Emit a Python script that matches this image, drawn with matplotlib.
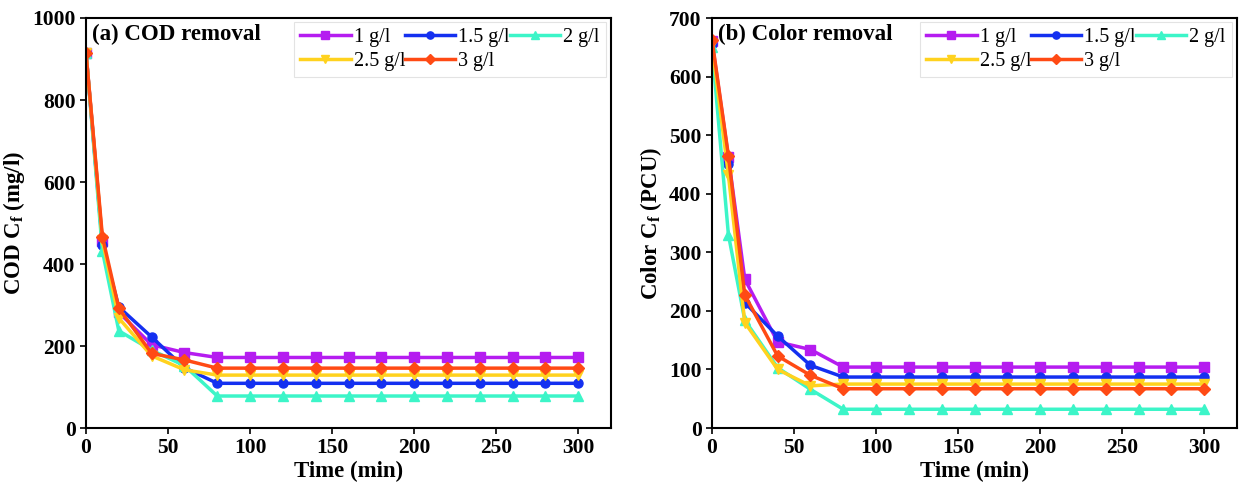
import matplotlib
matplotlib.use("Agg")
import matplotlib.pyplot as plt

plt.rcParams['font.family'] = ['Liberation Serif', 'DejaVu Serif']
plt.rcParams['mathtext.fontset'] = 'custom'
plt.rcParams['mathtext.rm'] = 'Liberation Serif'
plt.rcParams['mathtext.it'] = 'Liberation Serif:italic'
plt.rcParams['mathtext.bf'] = 'Liberation Serif:bold'

time = [0, 10, 20, 40, 60, 80, 100, 120, 140, 160, 180, 200, 220, 240, 260, 280, 300]
labels = ["1 g/l", "1.5 g/l", "2 g/l", "2.5 g/l", "3 g/l"]
colors = ["#B51CF0", "#1430F0", "#3CF5C8", "#FFD21E", "#FF4A14"]
markers = ["s", "o", "^", "v", "D"]

cod_1 = [915, 455, 282, 203, 184] + [172] * 12
cod_15 = [915, 447, 295, 222, 147] + [109] * 12
cod_2 = [915, 432, 237, 190, 152] + [78] * 12
cod_25 = [915, 458, 268, 176, 142] + [129] * 12
cod_3 = [915, 467, 292, 182, 166] + [146] * 12

col_1 = [660, 462, 254, 147, 134] + [104] * 12
col_15 = [655, 450, 214, 157, 107] + [87] * 12
col_2 = [650, 330, 184, 103, 66] + [32] * 12
col_25 = [655, 432, 180, 100, 72] + [75] * 12
col_3 = [663, 465, 227, 123, 90] + [67] * 12

cod_series = [cod_1, cod_15, cod_2, cod_25, cod_3]
col_series = [col_1, col_15, col_2, col_25, col_3]

fig = plt.figure(figsize=(12.44, 4.98), dpi=100)
ax1 = fig.add_axes([86 / 1244, 70 / 498, (611 - 86) / 1244, 410 / 498])
ax2 = fig.add_axes([712 / 1244, 70 / 498, (1237 - 712) / 1244, 410 / 498])

def draw(ax, series, ylim, yticks, ylabel, title):
    handles = []
    for s, lab, c, m in zip(series, labels, colors, markers):
        h, = ax.plot(time, s, color=c, marker=m, label=lab, lw=2.5, ms=6.5,
                     markeredgecolor=c)
        handles.append(h)
    ax.set_xlim(0, 320)
    ax.set_ylim(*ylim)
    ax.set_xticks([0, 50, 100, 150, 200, 250, 300])
    ax.set_yticks(yticks)
    ax.tick_params(axis='both', direction='out', length=4, width=1.2, labelsize=15.5)
    for lbl in ax.get_xticklabels() + ax.get_yticklabels():
        lbl.set_fontweight('bold')
    for sp in ax.spines.values():
        sp.set_linewidth(1.5)
    ax.set_xlabel("Time (min)", fontsize=16.5, fontweight='bold', labelpad=2)
    ax.set_ylabel(ylabel, fontsize=16.5, fontweight='bold', labelpad=4)
    ax.text(0.012, 0.985, title, transform=ax.transAxes, fontsize=16.5,
            fontweight='bold', va='top', ha='left')
    order = [0, 3, 1, 4, 2]
    leg = ax.legend([handles[i] for i in order], [labels[i] for i in order],
                    ncol=3, loc='upper right', bbox_to_anchor=(0.99, 0.99),
                    fontsize=14.5, frameon=True, fancybox=False,
                    handlelength=2.5, handletextpad=0.15, columnspacing=0.0,
                    labelspacing=0.25, borderpad=0.3, borderaxespad=0.0,
                    markerscale=0.8)
    leg.get_frame().set_edgecolor('#dddddd')
    leg.get_frame().set_linewidth(0.8)

draw(ax1, cod_series, (0, 1000), [0, 200, 400, 600, 800, 1000],
     r"COD C$_\mathbf{f}$ (mg/l)", "(a) COD removal")
draw(ax2, col_series, (0, 700), [0, 100, 200, 300, 400, 500, 600, 700],
     r"Color C$_\mathbf{f}$ (PCU)", "(b) Color removal")

fig.savefig("out.png", dpi=100)
